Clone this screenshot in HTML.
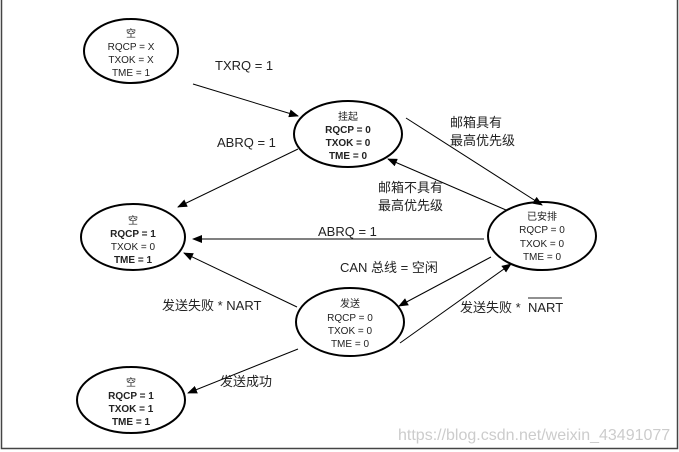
<!DOCTYPE html>
<html><head><meta charset="utf-8"><style>
html,body{margin:0;padding:0;background:#fff}
svg{display:block}
text{font-family:"Liberation Sans","Noto Sans CJK SC",sans-serif;fill:#222}
.n{font-size:10px;text-anchor:middle}
.b{font-weight:bold}
.l{font-size:13px}
</style></head><body>
<svg width="679" height="452" viewBox="0 0 679 452" xmlns="http://www.w3.org/2000/svg">
<defs><marker id="a" markerWidth="10" markerHeight="8" refX="9" refY="4" orient="auto" markerUnits="userSpaceOnUse"><path d="M0,0 L10,4 L0,8 Z" fill="#000"/></marker></defs>
<path d="M1.5,0 V448.5 H677.5 V0" fill="none" stroke="#444" stroke-width="1.5"/>
<g fill="#fff" stroke="#000" stroke-width="2">
<ellipse cx="131" cy="51" rx="47" ry="32"/>
<ellipse cx="348" cy="134" rx="54" ry="33"/>
<ellipse cx="133" cy="237" rx="52" ry="33"/>
<ellipse cx="542" cy="236" rx="54" ry="34"/>
<ellipse cx="350" cy="322" rx="54" ry="34"/>
<ellipse cx="131" cy="400" rx="54" ry="33"/>
</g>
<g stroke="#000" stroke-width="1" marker-end="url(#a)">
<line x1="193" y1="84" x2="298" y2="116"/>
<line x1="298" y1="149" x2="178" y2="207"/>
<line x1="406" y1="118" x2="542" y2="205"/>
<line x1="506" y1="210" x2="388" y2="159"/>
<line x1="484" y1="239" x2="193" y2="239"/>
<line x1="491" y1="257" x2="399" y2="306"/>
<line x1="297" y1="307" x2="184" y2="253"/>
<line x1="400" y1="343" x2="511" y2="264"/>
<line x1="298" y1="349" x2="188" y2="393"/>
</g>
<text class="n" x="131" y="37">空</text>
<text class="n" x="131" y="50">RQCP = X</text>
<text class="n" x="131" y="63">TXOK = X</text>
<text class="n" x="131" y="76">TME = 1</text>
<text class="n" x="348" y="120">挂起</text>
<text class="n b" x="348" y="133">RQCP = 0</text>
<text class="n b" x="348" y="146">TXOK = 0</text>
<text class="n b" x="348" y="159">TME = 0</text>
<text class="n" x="133" y="224">空</text>
<text class="n b" x="133" y="237">RQCP = 1</text>
<text class="n" x="133" y="250">TXOK = 0</text>
<text class="n b" x="133" y="263">TME = 1</text>
<text class="n" x="542" y="220">已安排</text>
<text class="n" x="542" y="233">RQCP = 0</text>
<text class="n" x="542" y="247">TXOK = 0</text>
<text class="n" x="542" y="260">TME = 0</text>
<text class="n" x="350" y="307">发送</text>
<text class="n" x="350" y="321">RQCP = 0</text>
<text class="n" x="350" y="334">TXOK = 0</text>
<text class="n" x="350" y="347">TME = 0</text>
<text class="n" x="131" y="386">空</text>
<text class="n b" x="131" y="399">RQCP = 1</text>
<text class="n b" x="131" y="412">TXOK = 1</text>
<text class="n b" x="131" y="425">TME = 1</text>
<text class="l" x="215" y="70">TXRQ = 1</text>
<text class="l" x="217" y="147">ABRQ = 1</text>
<text class="l" x="450" y="127">邮箱具有</text>
<text class="l" x="450" y="145">最高优先级</text>
<text class="l" x="378" y="192">邮箱不具有</text>
<text class="l" x="378" y="210">最高优先级</text>
<text class="l" x="318" y="236">ABRQ = 1</text>
<text class="l" x="340" y="272">CAN 总线 = 空闲</text>
<text class="l" x="162" y="310">发送失败 * NART</text>
<text class="l" x="460" y="312">发送失败 *</text>
<text class="l" x="528" y="312">NART</text>
<line x1="528" y1="298" x2="562" y2="298" stroke="#222" stroke-width="1"/>
<text class="l" x="220" y="386">发送成功</text>
<text x="398" y="440" style="font-size:16px;fill:#ccc">https://blog.csdn.net/weixin_43491077</text>
</svg>
</body></html>
